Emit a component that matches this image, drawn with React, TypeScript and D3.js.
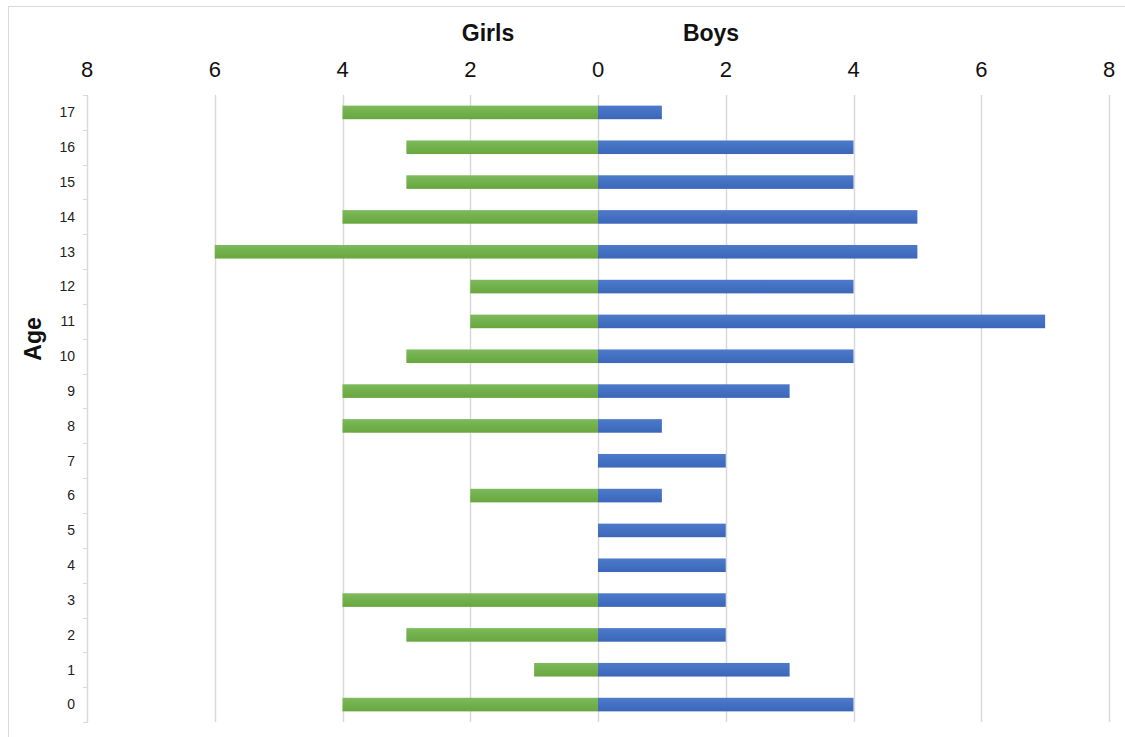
import React from 'react';
import * as d3 from 'd3';

const ages = [0, 1, 2, 3, 4, 5, 6, 7, 8, 9, 10, 11, 12, 13, 14, 15, 16, 17];
const girls = [4, 1, 3, 4, 0, 0, 2, 0, 4, 4, 3, 2, 2, 6, 4, 3, 3, 4];
const boys = [4, 3, 2, 2, 2, 2, 1, 2, 1, 3, 4, 7, 4, 5, 5, 4, 4, 1];
const xTicks = [-8, -6, -4, -2, 0, 2, 4, 6, 8];

const W = 1125;
const H = 737;
const font = 'Liberation Sans, Arial, sans-serif';

export default function App() {
  const ref = React.useRef<SVGSVGElement>(null);

  React.useEffect(() => {
    const svg = d3.select(ref.current);
    svg.selectAll('*').remove();

    const x = d3.scaleLinear([-8, 8], [87, 1109]);
    // 17 at top, 0 at bottom
    const y = d3
      .scaleBand<number>()
      .domain([...ages].reverse())
      .range([95, 722])
      .paddingInner(0.61)
      .paddingOuter(0.305);
    const step = y.step();
    const bandTop = (a: number) => y(a)! - step * 0.305;

    const defs = svg.append('defs');
    const grad = (id: string, top: string, bottom: string) => {
      const g = defs
        .append('linearGradient')
        .attr('id', id)
        .attr('x1', 0)
        .attr('y1', 0)
        .attr('x2', 0)
        .attr('y2', 1);
      g.append('stop').attr('offset', '0%').attr('stop-color', top);
      g.append('stop').attr('offset', '100%').attr('stop-color', bottom);
    };
    grad('green', '#7cba5c', '#68a63d');
    grad('blue', '#4d7acb', '#3b66b9');

    // chart border
    svg
      .append('rect')
      .attr('x', 8.5)
      .attr('y', 6.5)
      .attr('width', W + 20)
      .attr('height', H + 20)
      .attr('fill', 'white')
      .attr('stroke', '#d9d9d9');

    // vertical gridlines
    svg
      .append('g')
      .selectAll('line')
      .data(xTicks.filter((t) => t !== -8))
      .enter()
      .append('line')
      .attr('x1', (d) => Math.round(x(d)) + 0.5)
      .attr('x2', (d) => Math.round(x(d)) + 0.5)
      .attr('y1', 95)
      .attr('y2', 722)
      .attr('stroke', '#d9d9d9')
      .attr('stroke-width', 1.5);

    // y axis line + ticks between categories
    svg
      .append('line')
      .attr('x1', 87.5)
      .attr('x2', 87.5)
      .attr('y1', 95)
      .attr('y2', 722)
      .attr('stroke', '#d9d9d9')
      .attr('stroke-width', 1.5);
    const boundaries = ages.map((a) => bandTop(a)).concat([722]);
    svg
      .append('g')
      .selectAll('line')
      .data(boundaries)
      .enter()
      .append('line')
      .attr('x1', 83)
      .attr('x2', 88)
      .attr('y1', (d) => Math.round(d) + 0.5)
      .attr('y2', (d) => Math.round(d) + 0.5)
      .attr('stroke', '#d9d9d9')
      .attr('stroke-width', 1);

    // y tick labels
    svg
      .append('g')
      .selectAll('text')
      .data(ages)
      .enter()
      .append('text')
      .attr('x', 75)
      .attr('y', (d) => y(d)! + y.bandwidth() / 2)
      .attr('dy', '0.35em')
      .attr('text-anchor', 'end')
      .attr('font-family', font)
      .attr('font-size', 14)
      .attr('fill', '#222')
      .text((d) => d);

    // x tick labels
    svg
      .append('g')
      .selectAll('text')
      .data(xTicks)
      .enter()
      .append('text')
      .attr('x', (d) => x(d))
      .attr('y', 77)
      .attr('text-anchor', 'middle')
      .attr('font-family', font)
      .attr('font-size', 22)
      .attr('fill', '#111')
      .text((d) => Math.abs(d));

    // bars
    svg
      .append('g')
      .selectAll('rect')
      .data(ages)
      .enter()
      .append('rect')
      .attr('x', (_, i) => x(-girls[i]))
      .attr('width', (_, i) => x(0) - x(-girls[i]))
      .attr('y', (d) => y(d)!)
      .attr('height', y.bandwidth())
      .attr('fill', 'url(#green)');
    svg
      .append('g')
      .selectAll('rect')
      .data(ages)
      .enter()
      .append('rect')
      .attr('x', x(0))
      .attr('width', (_, i) => x(boys[i]) - x(0))
      .attr('y', (d) => y(d)!)
      .attr('height', y.bandwidth())
      .attr('fill', 'url(#blue)');

    // titles
    const title = (t: string, cx: number, cy: number) =>
      svg
        .append('text')
        .attr('x', cx)
        .attr('y', cy)
        .attr('text-anchor', 'middle')
        .attr('font-family', font)
        .attr('font-size', 23)
        .attr('font-weight', 'bold')
        .attr('fill', '#111')
        .text(t);
    title('Girls', 488, 41);
    title('Boys', 711, 41);
    title('Age', 0, 0).attr('transform', 'translate(41,339) rotate(-90)');
  }, []);

  return (
    <svg
      ref={ref}
      width={W}
      height={H}
      style={{ position: 'absolute', left: 0, top: 0, display: 'block' }}
    />
  );
}
